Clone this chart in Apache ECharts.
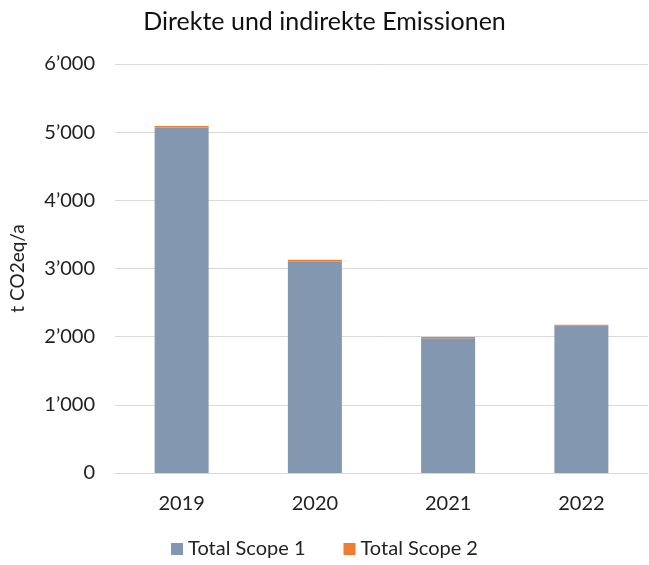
<!DOCTYPE html>
<html>
<head>
<meta charset="utf-8">
<script src="https://cdn.jsdelivr.net/npm/echarts@6/dist/echarts.min.js"></script>
<style>
  html, body { margin: 0; padding: 0; background: #fff; }
  #chart { width: 649px; height: 565px; }
</style>
</head>
<body>
<div id="chart"></div>
<script>
// 数据
const years = ['2019', '2020', '2021', '2022']
const scope1 = [5070, 3100, 1975, 2160]
const scope2 = [20, 30, 20, 15]
const yTicks = [0, 1000, 2000, 3000, 4000, 5000, 6000]

const fmt = v => String(v).replace(/\B(?=(\d{3})+(?!\d))/g, '\u2019')

const myChart = echarts.init(document.getElementById('chart'))

const option = {
  title: {
    text: 'Direkte und indirekte Emissionen',
    left: 'center',
    top: 4,
    textStyle: { fontFamily: 'Lato', fontSize: 25, fontWeight: 'normal', color: '#111' }
  },
  color: ['#8497b0', '#ed7d31'],
  grid: { left: 113, right: 1, top: 64, bottom: 92 },
  legend: {
    bottom: 1,
    left: 'center',
    itemWidth: 12,
    itemHeight: 12,
    itemGap: 38,
    icon: 'rect',
    textStyle: { fontFamily: 'Lato', fontSize: 20, color: '#222' },
    data: ['Total Scope 1', 'Total Scope 2']
  },
  xAxis: {
    type: 'category',
    data: years,
    axisTick: { show: false },
    axisLine: { lineStyle: { color: '#d9d9d9', width: 1 } },
    axisLabel: { fontFamily: 'Lato', fontSize: 20, color: '#222', margin: 21 }
  },
  yAxis: {
    type: 'value',
    min: yTicks[0],
    max: yTicks[yTicks.length - 1],
    interval: 1000,
    name: 't CO2eq/a',
    nameLocation: 'middle',
    nameGap: 88,
    nameTextStyle: { fontFamily: 'Lato', fontSize: 19, color: '#222' },
    axisLabel: { fontFamily: 'Lato', fontSize: 20, color: '#222', margin: 20, formatter: fmt },
    splitLine: { lineStyle: { color: '#d9d9d9', width: 1 } }
  },
  series: [
    { name: 'Total Scope 1', type: 'bar', stack: 'all', barWidth: 54, data: scope1 },
    { name: 'Total Scope 2', type: 'bar', stack: 'all', barWidth: 54, data: scope2 }
  ]
}
myChart.setOption(option)
</script>
</body>
</html>
